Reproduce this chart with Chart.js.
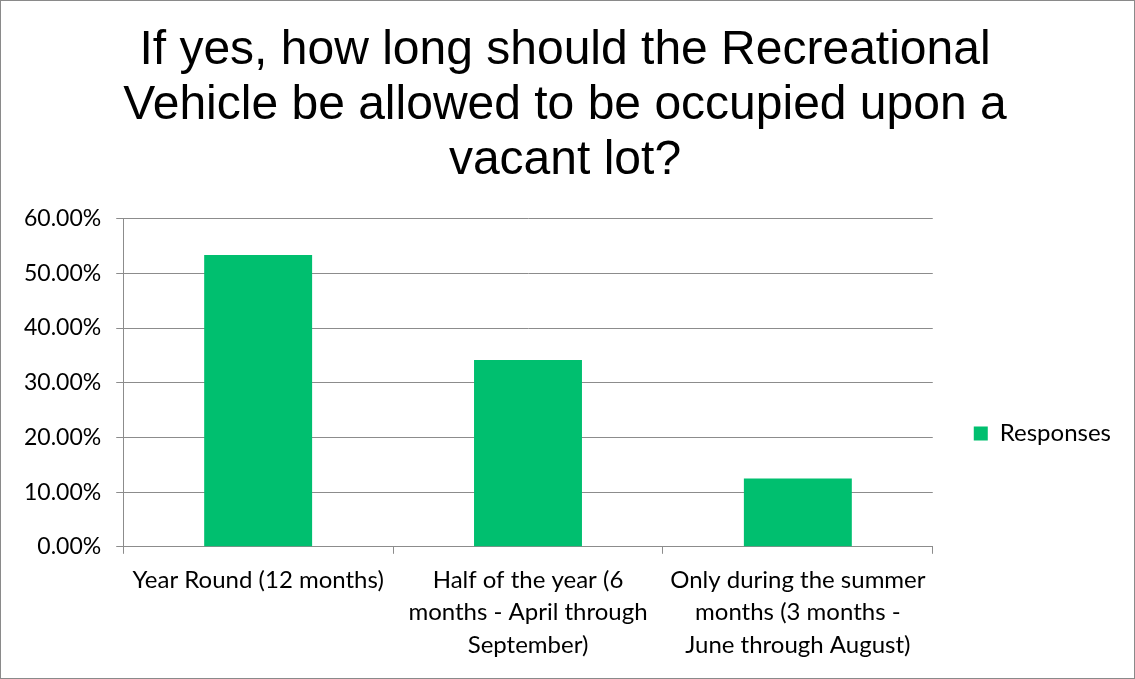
<!DOCTYPE html>
<html>
<head>
<meta charset="utf-8">
<script src="https://cdn.jsdelivr.net/npm/chart.js@4.4.1/dist/chart.umd.min.js"></script>
<style>
  html, body { margin: 0; padding: 0; background: #fff; }
  #wrap {
    width: 1135px; height: 679px; box-sizing: border-box;
    border: 1px solid #8a8a8a; position: relative;
  }
</style>
</head>
<body>
<div id="wrap"><canvas id="rvChart"></canvas></div>
<script>
// Chart data
const categories = [
  ["Year Round (12 months)"],
  ["Half of the year (6", "months - April through", "September)"],
  ["Only during the summer", "months (3 months -", "June through August)"],
];
const responses = [53.33, 34.17, 12.5];
const titleLines = [
  "If yes, how long should the Recreational",
  "Vehicle be allowed to be occupied upon a",
  "vacant lot?",
];
const seriesName = "Responses";

const green = "rgb(0, 191, 111)";
const gridGray = "#8c8c8c";

const ctx = document.getElementById("rvChart").getContext("2d");

new Chart(ctx, {
  type: "bar",
  data: {
    labels: categories,
    datasets: [
      {
        label: seriesName,
        data: responses,
        backgroundColor: green,
        borderWidth: 0,
        categoryPercentage: 1,
        barPercentage: 0.4,
      },
    ],
  },
  options: {
    responsive: true,
    maintainAspectRatio: false,
    animation: false,
    layout: {
      padding: { left: 8, right: 13, top: 0, bottom: 7 },
    },
    scales: {
      x: {
        offset: true,
        grid: {
          offset: true,
          drawOnChartArea: false,
          drawTicks: true,
          tickLength: 7,
          color: gridGray,
        },
        border: { color: gridGray, width: 1 },
        ticks: {
          color: "#000",
          font: { family: "Lato", size: 24, lineHeight: 1.35 },
          padding: 10,
          maxRotation: 0,
          autoSkip: false,
        },
      },
      y: {
        min: 0,
        max: 60,
        grid: {
          color: gridGray,
          tickLength: 7,
        },
        border: { color: gridGray, width: 1 },
        ticks: {
          stepSize: 10,
          color: "#000",
          font: { family: "Lato", size: 23 },
          padding: 15,
          callback: (v) => v.toFixed(2) + "%",
        },
      },
    },
    plugins: {
      title: {
        display: true,
        text: titleLines,
        color: "#000",
        font: { family: "Liberation Sans", size: 48, weight: "normal", lineHeight: 1.15 },
        padding: { top: 22, bottom: 30 },
      },
      legend: {
        position: "right",
        title: {
          display: true,
          text: "",
          font: { size: 10, lineHeight: 1.2 },
          padding: { top: 183, bottom: 0 },
        },
        labels: {
          boxWidth: 14,
          boxHeight: 14,
          color: "#000",
          font: { family: "Lato", size: 24 },
          padding: 41,
        },
      },
      tooltip: { enabled: false },
    },
  },
});
</script>
</body>
</html>
